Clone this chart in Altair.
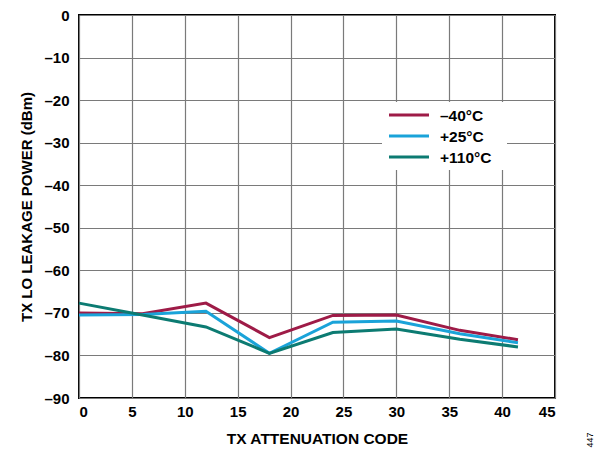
import altair as alt
import pandas as pd

codes = [0, 6, 12, 18, 24, 30, 36, 41.5]
series_names = ["–40°C", "+25°C", "+110°C"]
vals_m40 = [-70.0, -70.2, -67.7, -75.8, -70.6, -70.5, -74.1, -76.3]
vals_p25 = [-70.5, -70.4, -69.6, -79.5, -72.2, -71.9, -74.9, -77.0]
vals_p110 = [-67.7, -70.5, -73.3, -79.5, -74.6, -73.8, -76.2, -78.0]
colors = ["#9E1B47", "#1AA3D9", "#0C7B72"]

rows = []
for name, vals in zip(series_names, [vals_m40, vals_p25, vals_p110]):
    for c, v in zip(codes, vals):
        rows.append({"code": c, "power": v, "series": name})
df = pd.DataFrame(rows)

font = "Liberation Sans"
color_scale = alt.Scale(domain=series_names, range=colors)

lines = alt.Chart(df).mark_line(strokeWidth=3).encode(
    x=alt.X("code:Q", scale=alt.Scale(domain=[0, 45], nice=False),
            axis=alt.Axis(values=list(range(0, 50, 5)), title="TX ATTENUATION CODE",
                          labelFont=font, labelFontWeight="bold", labelFontSize=15,
                          titleFont=font, titleFontWeight="bold", titleFontSize=15.5,
                          titlePadding=12, labelPadding=6, ticks=False, domain=False,
                          labelColor="black", titleColor="black",
                          gridColor="#7a7a7a", gridWidth=1.2, gridOpacity=1)),
    y=alt.Y("power:Q", scale=alt.Scale(domain=[-90, 0], nice=False),
            axis=alt.Axis(values=list(range(-90, 10, 10)), title="TX LO LEAKAGE POWER (dBm)",
                          labelExpr="replace(datum.label, '−', '–')",
                          labelFont=font, labelFontWeight="bold", labelFontSize=15,
                          titleFont=font, titleFontWeight="bold", titleFontSize=15,
                          titlePadding=9, labelPadding=10, ticks=False, domain=False,
                          labelColor="black", titleColor="black",
                          gridColor="#7a7a7a", gridWidth=1.2, gridOpacity=1)),
    color=alt.Color("series:N", sort=series_names, scale=color_scale, legend=None),
)

# manual legend
leg_df = pd.DataFrame({"series": series_names, "row": [0, 1, 2]})
leg_df["ly"] = 100 + leg_df["row"] * 21
leg_bg = alt.Chart(pd.DataFrame({"a": [0]})).mark_rect(color="white").encode(
    x=alt.value(303), x2=alt.value(428), y=alt.value(87), y2=alt.value(155))
leg_lines = alt.Chart(leg_df).mark_rule(strokeWidth=3).encode(
    x=alt.value(310), x2=alt.value(350),
    y=alt.Y("ly:Q", scale=None),
    color=alt.Color("series:N", scale=color_scale, legend=None))
leg_text = alt.Chart(leg_df).mark_text(
    align="left", baseline="middle", font=font, fontWeight="bold", fontSize=15.5, color="black", dy=1
).encode(x=alt.value(361), y=alt.Y("ly:Q", scale=None), text="series:N")

note = alt.Chart(pd.DataFrame({"t": ["447"]})).mark_text(
    angle=270, fontSize=9, font=font, color="black"
).encode(text="t:N", x=alt.value(511), y=alt.value(425))

chart = alt.layer(lines, leg_bg, leg_lines, leg_text, note).properties(
    width=476, height=383,
    autosize=alt.AutoSizeParams(type="none"),
    padding={"left": 71, "top": 7, "right": 50, "bottom": 50},
    background="white",
).configure_view(stroke="black", strokeWidth=2)

chart.save("out.html", embed_options={"renderer": "svg", "actions": False})
